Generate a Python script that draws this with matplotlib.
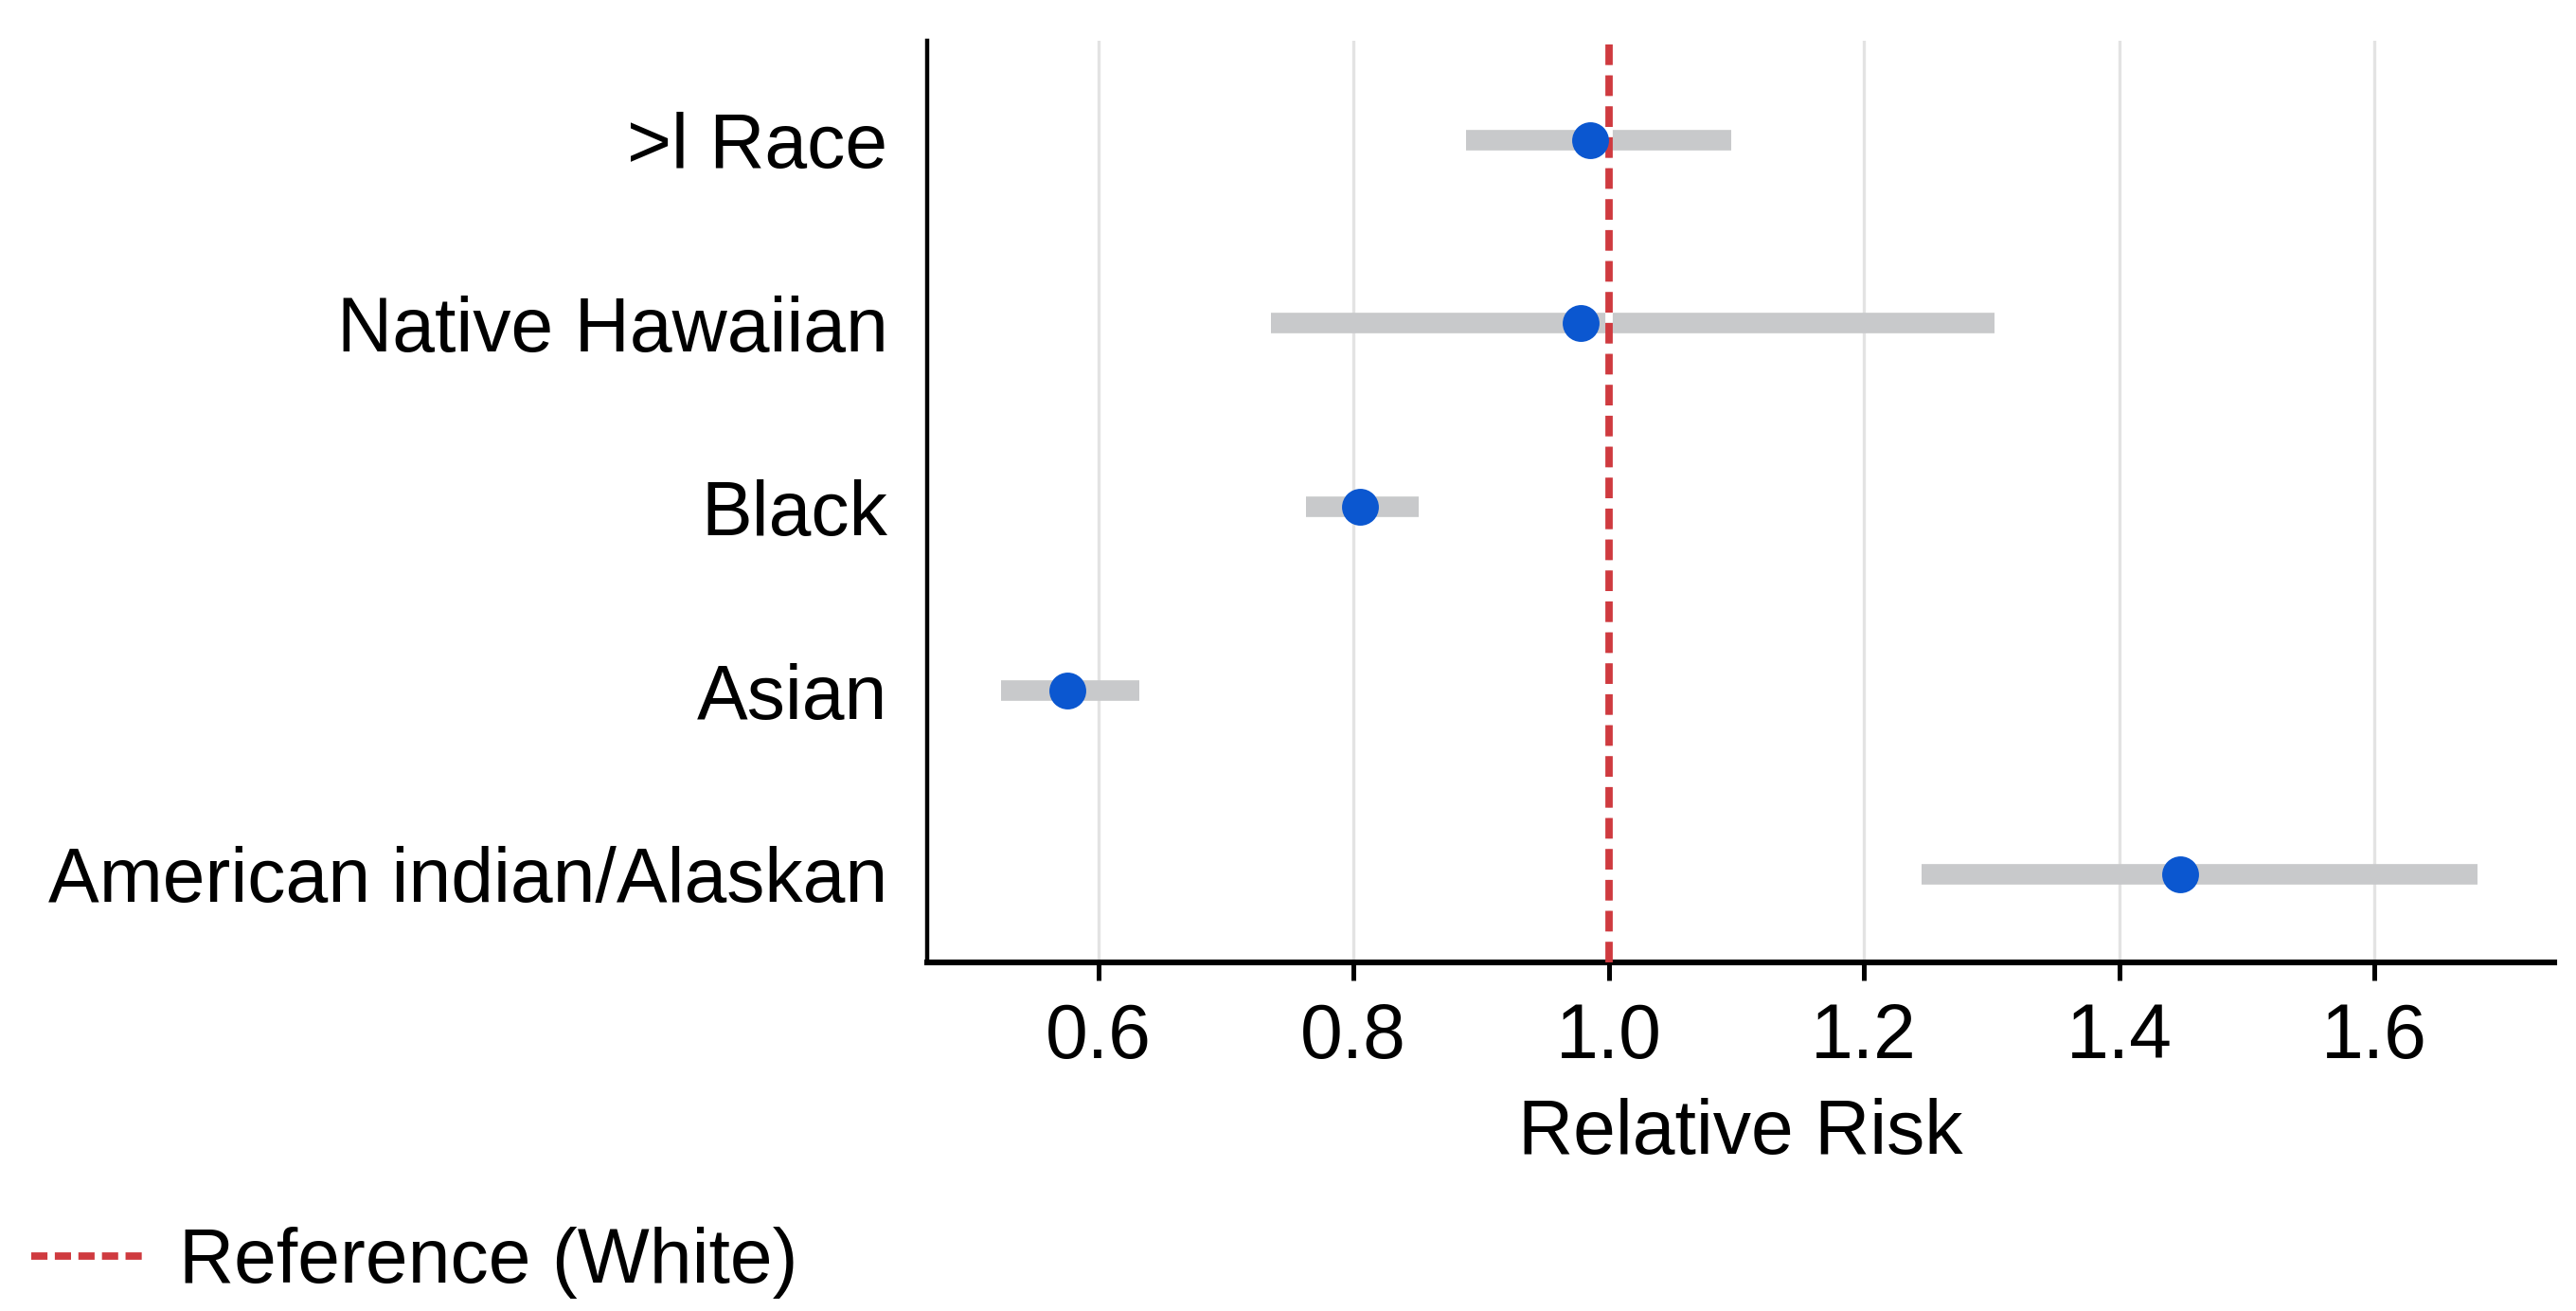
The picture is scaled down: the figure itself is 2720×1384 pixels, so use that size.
import matplotlib
matplotlib.use("Agg")
import matplotlib.pyplot as plt
import numpy as np

plt.rcParams['font.family'] = ['Liberation Sans', 'DejaVu Sans']

categories = [">l Race", "Native Hawaiian", "Black", "Asian", "American indian/Alaskan"]
rr = [0.985, 0.978, 0.805, 0.576, 1.448]
ci_low = [0.888, 0.735, 0.763, 0.524, 1.245]
ci_high = [1.096, 1.302, 0.851, 0.632, 1.681]
xticks = [0.6, 0.8, 1.0, 1.2, 1.4, 1.6]
ref_value = 1.0

fig = plt.figure(figsize=(13.6, 6.92), dpi=200)
ax = fig.add_axes([0.36, 0.266, 0.6316, 0.703])

y = np.arange(len(categories))
ax.hlines(y, ci_low, ci_high, color='#c8c9cb', lw=7.8, zorder=2)
ax.axvline(ref_value, color='#cf3a3f', ls=(0, (2.8, 1.4)), lw=2.8, gapcolor='white',
           zorder=3, label='Reference (White)')
ax.plot(rr, y, 'o', color='#0b57d0', ms=13, zorder=4)

ax.set_yticks(y)
ax.set_yticklabels(categories)
ax.set_ylim(4.48, -0.54)
ax.set_xticks(xticks)
ax.set_xticklabels([f"{v:.1f}" for v in xticks])
ax.set_xlim(0.466, 1.741)

ax.grid(axis='x', color='#e3e3e3', lw=1.2, zorder=0)
ax.set_axisbelow(True)
for s in ['top', 'right']:
    ax.spines[s].set_visible(False)
ax.spines['left'].set_linewidth(1.6)
ax.spines['bottom'].set_linewidth(2.2)
ax.tick_params(axis='y', length=0, pad=15, labelsize=29)
ax.tick_params(axis='x', length=7, width=1.8, pad=8, labelsize=29)
ax.set_xlabel('Relative Risk', fontsize=29, labelpad=9)

leg = fig.legend(loc='center left', bbox_to_anchor=(33 / 2720, 1 - 1333 / 1384), frameon=False,
                 fontsize=29, handlelength=1.49, handletextpad=0.45, borderpad=0, borderaxespad=0)
for h in leg.get_lines():
    h.set_linestyle((0, (2.2, 1.0)))
    h.set_gapcolor(None)

fig.savefig('out.png', dpi=200)
